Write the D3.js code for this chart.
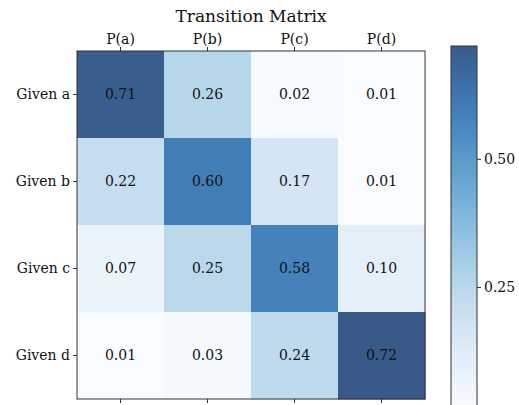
<!DOCTYPE html>
<html>
<head>
<meta charset="utf-8">
<script src="https://cdn.jsdelivr.net/npm/d3@7"></script>
<style>
  body { margin: 0; background: #fff; }
  svg text { font-family: "DejaVu Serif", serif; fill: #111; }
</style>
</head>
<body>
<div id="chart"></div>
<script>
// data
const rowLabels = ["Given a", "Given b", "Given c", "Given d"];
const colLabels = ["P(a)", "P(b)", "P(c)", "P(d)"];
const probs = [
  [0.71, 0.26, 0.02, 0.01],
  [0.22, 0.60, 0.17, 0.01],
  [0.07, 0.25, 0.58, 0.10],
  [0.01, 0.03, 0.24, 0.72]
];
const cbarTicks = [0.25, 0.50];

const width = 519, height = 405;
const svg = d3.select("#chart").append("svg")
    .attr("width", width).attr("height", height);

const mLeft = 77, mTop = 51, size = 348;
let vmin = d3.min(probs.flat()), vmax = d3.max(probs.flat());

// Blues with alpha 0.8 on white
const color = v => {
  let c = d3.rgb(d3.interpolateBlues((v - vmin) / (vmax - vmin)));
  return d3.rgb(c.r * 0.8 + 51, c.g * 0.8 + 51, c.b * 0.8 + 51);
};

let x = d3.scaleBand().domain(colLabels).range([mLeft, mLeft + size]);
let y = d3.scaleBand().domain(rowLabels).range([mTop, mTop + size]);

let cells = [];
probs.forEach((row, i) => row.forEach((v, j) => cells.push({r: rowLabels[i], c: colLabels[j], v: v})));

svg.selectAll(".cell").data(cells).enter().append("rect")
    .attr("class", "cell")
    .attr("x", d => x(d.c)).attr("y", d => y(d.r))
    .attr("width", x.bandwidth() + 0.5).attr("height", y.bandwidth() + 0.5)
    .attr("fill", d => color(d.v));

svg.selectAll(".val").data(cells).enter().append("text")
    .attr("class", "val")
    .attr("x", d => x(d.c) + x.bandwidth() / 2)
    .attr("y", d => y(d.r) + y.bandwidth() / 2)
    .attr("text-anchor", "middle").attr("dy", "0.35em")
    .style("font-size", "14px")
    .text(d => d.v.toFixed(2));

svg.append("rect").attr("x", mLeft).attr("y", mTop).attr("width", size).attr("height", size)
    .attr("fill", "none").attr("stroke", "#333").attr("stroke-width", 1);

// axes
function styleAxis(g) {
  g.select(".domain").remove();
  g.selectAll(".tick line").attr("stroke", "#333");
  g.selectAll(".tick text").style("font-size", "14px").attr("fill", "#111");
}
svg.append("g").attr("transform", `translate(0,${mTop})`)
    .call(d3.axisTop(x).tickSize(4).tickPadding(3)).call(styleAxis);
svg.append("g").attr("transform", `translate(0,${mTop + size})`)
    .call(d3.axisBottom(x).tickSize(4).tickFormat("")).call(styleAxis);
svg.append("g").attr("transform", `translate(${mLeft},0)`)
    .call(d3.axisLeft(y).tickSize(4).tickPadding(3)).call(styleAxis);

svg.append("text").attr("x", mLeft + size / 2).attr("y", 22)
    .attr("text-anchor", "middle").style("font-size", "17px")
    .text("Transition Matrix");

// colorbar
const cbX = 451, cbW = 26, cbTop = 46;
let cy = d3.scaleLinear().domain([vmin, vmax]).range([410, cbTop]);
let defs = svg.append("defs");
let grad = defs.append("linearGradient").attr("id", "cb")
    .attr("x1", 0).attr("y1", 1).attr("x2", 0).attr("y2", 0);
d3.range(0, 1.0001, 0.05).forEach(t => {
  grad.append("stop").attr("offset", t).attr("stop-color", color(vmin + t * (vmax - vmin)));
});
svg.append("rect").attr("x", cbX).attr("y", cy(vmax)).attr("width", cbW)
    .attr("height", cy(vmin) - cy(vmax))
    .attr("fill", "url(#cb)").attr("stroke", "#333").attr("stroke-width", 1);
svg.append("g").attr("transform", `translate(${cbX + cbW},0)`)
    .call(d3.axisRight(cy).tickValues(cbarTicks).tickSize(4).tickPadding(3).tickFormat(d3.format(".2f")))
    .call(styleAxis);
</script>
</body>
</html>
